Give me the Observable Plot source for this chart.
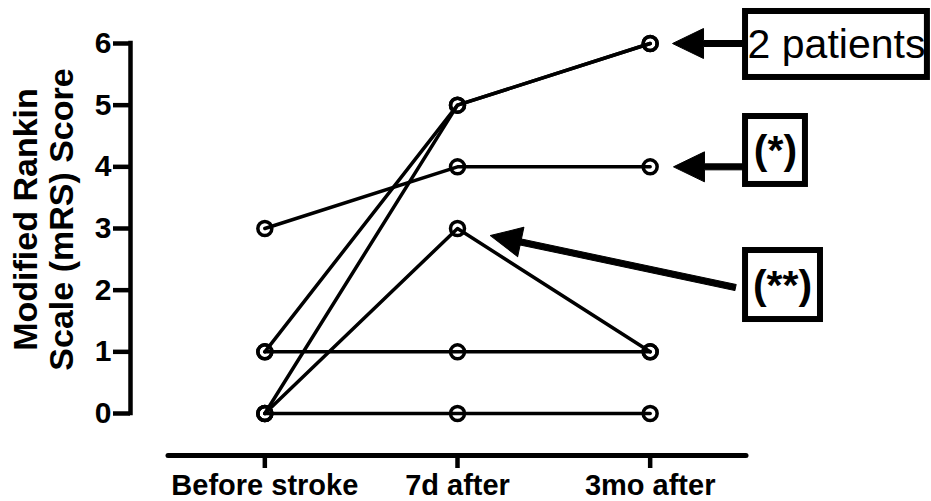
<!DOCTYPE html>
<html><head><meta charset="utf-8">
<script src="https://cdn.jsdelivr.net/npm/d3@7"></script>
<script src="https://cdn.jsdelivr.net/npm/@observablehq/plot@0.6"></script>
<style>body{margin:0;background:#fff}</style>
</head><body><div id="chart"></div>
<script>
// ---- data ----
const timepoints = ["Before stroke", "7d after", "3mo after"];
const patientScores = [[3,4,4],[1,5,6],[0,5,6],[0,3,1],[1,1,1],[0,0,0]];
const yTicks = [0,1,2,3,4,5,6];
const yTitle = "Modified Rankin\nScale (mRS) Score";

// annotations (data units: x = timepoint index, y = mRS score)
const noteLabels = ["2 patients", "(*)", "(**)"];
const noteBold = [false, true, true];
const noteBoxX1 = [2.495, 2.495, 2.495];
const noteBoxX2 = [3.439, 2.806, 2.884];
const noteBoxY1 = [6.519, 4.816, 2.643];
const noteBoxY2 = [5.449, 3.714, 1.524];
const noteTextX = [2.967, 2.65, 2.687];
const noteTextY = [5.984, 4.265, 2.076];
const arrowX1 = [2.479, 2.479, 2.443];
const arrowY1 = [6, 4, 2.043];
const arrowX2 = [2.116, 2.121, 1.171];
const arrowY2 = [6, 4, 2.886];

// ---- layout ----
const xDomain = [-0.5, 2.5], xRange = [168, 746];
const yDomain = [0, 6], yRange = [413, 43];
const xs = d3.scaleLinear(xDomain, xRange), ys = d3.scaleLinear(yDomain, yRange);

const rows = patientScores.flatMap((s, p) => s.map((v, t) => ({patient: p, t, score: v})));
const notes = noteLabels.map((label, i) => ({
  label, bold: noteBold[i],
  x1: noteBoxX1[i], x2: noteBoxX2[i], y1: noteBoxY1[i], y2: noteBoxY2[i],
  tx: noteTextX[i], ty: noteTextY[i]
}));
const arrows = arrowX1.map((x1, i) => {
  const dx = xs(arrowX2[i]) - xs(x1), dy = ys(arrowY2[i]) - ys(arrowY1[i]);
  return {x1, y1: arrowY1[i], len: Math.hypot(dx, dy), rot: Math.atan2(dx, -dy) * 180 / Math.PI};
});

const arrowShape = {
  draw(ctx, l, r) {
    const w = 3, hl = 31, hw = 15;
    ctx.moveTo(-w, 0);
    ctx.lineTo(-w, -(l - hl));
    ctx.lineTo(-hw, -(l - hl));
    ctx.lineTo(0, -l);
    ctx.lineTo(hw, -(l - hl));
    ctx.lineTo(w, -(l - hl));
    ctx.lineTo(w, 0);
    ctx.closePath();
  }
};

const font = "'Liberation Sans', Arial, Helvetica, sans-serif";

const chart = Plot.plot({
  width: 931, height: 501,
  marginTop: 43, marginBottom: 46, marginLeft: 130, marginRight: 185,
  x: {domain: xDomain, range: xRange},
  y: {domain: yDomain, range: yRange},
  length: {type: "identity"},
  style: {fontFamily: font, background: "white", color: "black", overflow: "visible"},
  marks: [
    // axis lines
    Plot.ruleX([xDomain[0]], {y1: yDomain[0], y2: yDomain[1], dx: -38, strokeWidth: 4.5, strokeLinecap: "square"}),
    Plot.ruleY([0], {x1: xDomain[0], x2: xDomain[1], dy: 42, strokeWidth: 5, strokeLinecap: "round"}),
    Plot.axisY(yTicks, {tickSize: 17, tickPadding: 2, fontSize: 30, fontWeight: "bold", strokeWidth: 4.5, label: null, tickFormat: d => String(d)}),
    Plot.axisX(timepoints.map((d, i) => i), {tickSize: 13, tickPadding: 6, fontSize: 29, fontWeight: "bold", strokeWidth: 4.5, label: null, tickFormat: i => timepoints[i]}),
    Plot.text([yTitle], {frameAnchor: "left", rotate: -90, dx: -87, dy: -30, fontSize: 34, fontWeight: "bold", lineHeight: 1.05, textAnchor: "middle"}),
    // data
    Plot.line(rows, {x: "t", y: "score", z: "patient", stroke: "black", strokeWidth: 3.5}),
    Plot.dot(rows, {x: "t", y: "score", r: 7, stroke: "black", strokeWidth: 3.5, fill: "none"}),
    // annotations
    Plot.vector(arrows, {x: "x1", y: "y1", length: "len", rotate: "rot", anchor: "start", shape: arrowShape, fill: "black", stroke: "black", strokeWidth: 1}),
    Plot.rect(notes, {x1: "x1", x2: "x2", y1: "y1", y2: "y2", fill: "white", stroke: "black", strokeWidth: 6}),
    Plot.text(notes.filter(d => !d.bold), {x: "tx", y: "ty", text: "label", fontSize: 41, textAnchor: "middle", lineAnchor: "middle"}),
    Plot.text(notes.filter(d => d.bold), {x: "tx", y: "ty", text: "label", fontSize: 41, fontWeight: "bold", textAnchor: "middle", lineAnchor: "middle"})
  ]
});
document.getElementById("chart").appendChild(chart);
</script>
</body></html>
